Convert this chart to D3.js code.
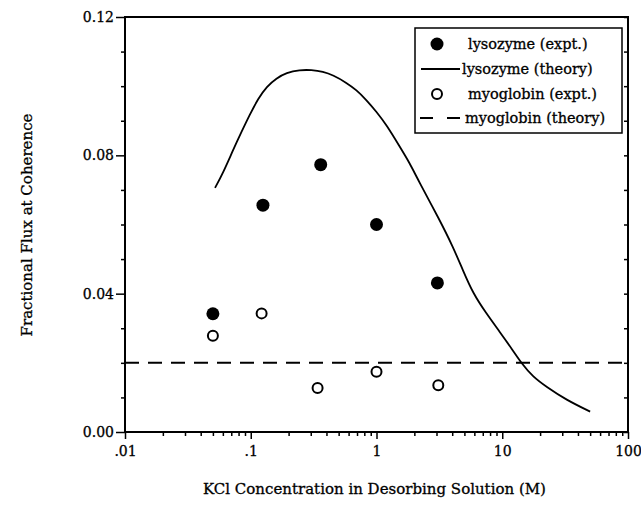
<!DOCTYPE html>
<html>
<head>
<meta charset="utf-8">
<script src="https://cdn.jsdelivr.net/npm/d3@7"></script>
<style>
  body { margin: 0; background: #fff; }
  text { font-family: "DejaVu Serif", serif; fill: #000; stroke: #000; stroke-width: 0.3px; }
</style>
</head>
<body>
<div id="chart"></div>
<script>
// Data
var lysoExptX = [0.05, 0.125, 0.36, 1.0, 3.05];
var lysoExptY = [0.0342, 0.0656, 0.0773, 0.0600, 0.0431];
var myoExptX = [0.05, 0.122, 0.34, 1.0, 3.1];
var myoExptY = [0.0278, 0.0343, 0.0127, 0.0174, 0.0135];
var lysoTheoryX = [0.052, 0.060, 0.0725, 0.0845, 0.098, 0.115, 0.134, 0.16, 0.192, 0.245, 0.304, 0.376, 0.451,
                   0.577, 0.692, 0.832, 1.0, 1.2, 1.53, 1.84, 2.14, 3.18, 4.05, 4.86, 5.85, 7.46, 9.53,
                   12.1, 14.2, 17.5, 22.4, 32.2, 50];
var lysoTheoryY = [0.0706, 0.0748, 0.0816, 0.0868, 0.0917, 0.0965, 0.0999, 0.1023, 0.1039, 0.1047, 0.1047, 0.1042, 0.1032,
                   0.1010, 0.0989, 0.0960, 0.0926, 0.0888, 0.0825, 0.0777, 0.0729, 0.0613, 0.0536, 0.0468, 0.0401, 0.0343, 0.0290,
                   0.0237, 0.0199, 0.0160, 0.0131, 0.0093, 0.0059];
var myoTheoryY = 0.02;

var xTicks = [0.01, 0.1, 1, 10, 100];
var xTickLabels = [".01", ".1", "1", "10", "100"];
var yTicks = [0, 0.04, 0.08, 0.12];
var yTickLabels = ["0.00", "0.04", "0.08", "0.12"];
var legendLabels = ["lysozyme (expt.)", "lysozyme (theory)", "myoglobin (expt.)", "myoglobin (theory)"];

// Dimensions
var W = 641, H = 513;
var margin = {top: 17, right: 13, bottom: 81, left: 125};
var width = W - margin.left - margin.right,
    height = H - margin.top - margin.bottom;

var svg = d3.select("#chart").append("svg")
    .attr("width", W).attr("height", H)
  .append("g")
    .attr("transform", "translate(" + margin.left + "," + margin.top + ")");

var x = d3.scaleLog().domain([0.01, 100]).range([0, width]);
var y = d3.scaleLinear().domain([0, 0.12]).range([height, 0]);

// minor ticks
var xMinor = [];
[0.01, 0.1, 1, 10].forEach(function(d) {
    for (var k = 2; k <= 9; k++) xMinor.push(d * k);
});
var yMinor = d3.range(0, 13).map(function(i) { return i * 0.01; })
    .filter(function(v, i) { return i % 4 !== 0; });

// bottom axis
var xAxis = svg.append("g").attr("transform", "translate(0," + height + ")");
xAxis.call(d3.axisBottom(x).tickValues(xMinor).tickSize(4).tickFormat(""));
xAxis.append("g").call(d3.axisBottom(x).tickValues(xTicks).tickSize(7)
    .tickFormat(function(d, i) { return xTickLabels[i]; }));
xAxis.selectAll(".domain").remove();
xAxis.selectAll("text").style("font-size", "14px").attr("dy", "0.85em").attr("y", 12);

// left axis
var yAxis = svg.append("g");
yAxis.call(d3.axisLeft(y).tickValues(yMinor).tickSize(4).tickFormat(""));
yAxis.append("g").call(d3.axisLeft(y).tickValues(yTicks).tickSize(9)
    .tickFormat(function(d, i) { return yTickLabels[i]; }));
yAxis.selectAll(".domain").remove();
yAxis.selectAll("text").style("font-size", "14px").attr("x", -11);

// right axis small inward ticks
var rAxis = svg.append("g").attr("transform", "translate(" + width + ",0)");
rAxis.call(d3.axisRight(y).tickValues(yMinor.concat(yTicks)).tickSize(-4).tickFormat(""));
rAxis.selectAll(".domain").remove();

svg.selectAll(".tick line").attr("stroke-width", 1.5);

// frame
svg.append("rect")
    .attr("x", 0).attr("y", 0)
    .attr("width", width).attr("height", height)
    .attr("fill", "none").attr("stroke", "#000").attr("stroke-width", 2);

// myoglobin theory
svg.append("line")
    .attr("x1", x(0.01)).attr("x2", x(100))
    .attr("y1", y(myoTheoryY)).attr("y2", y(myoTheoryY))
    .attr("stroke", "#000").attr("stroke-width", 2)
    .attr("stroke-dasharray", "14,9");

// lysozyme theory
var line = d3.line()
    .x(function(d) { return x(d[0]); })
    .y(function(d) { return y(d[1]); })
    .curve(d3.curveBasis);
svg.append("path")
    .datum(d3.zip(lysoTheoryX, lysoTheoryY))
    .attr("d", line)
    .attr("fill", "none").attr("stroke", "#000").attr("stroke-width", 1.8);

// experimental points
svg.selectAll(".lyso").data(d3.zip(lysoExptX, lysoExptY)).enter()
  .append("circle").attr("class", "lyso")
    .attr("cx", function(d) { return x(d[0]); })
    .attr("cy", function(d) { return y(d[1]); })
    .attr("r", 6.5).attr("fill", "#000");

svg.selectAll(".myo").data(d3.zip(myoExptX, myoExptY)).enter()
  .append("circle").attr("class", "myo")
    .attr("cx", function(d) { return x(d[0]); })
    .attr("cy", function(d) { return y(d[1]); })
    .attr("r", 5).attr("fill", "#fff").attr("stroke", "#000").attr("stroke-width", 2);

// legend
var lg = svg.append("g").attr("transform", "translate(" + (415 - margin.left) + "," + (28 - margin.top) + ")");
lg.append("rect").attr("width", 207).attr("height", 105)
    .attr("fill", "#fff").attr("stroke", "#000").attr("stroke-width", 1.5);
var rowY = [16, 41, 66, 90];
lg.append("circle").attr("cx", 22).attr("cy", rowY[0]).attr("r", 6.5).attr("fill", "#000");
lg.append("line").attr("x1", 6).attr("x2", 45).attr("y1", rowY[1]).attr("y2", rowY[1])
    .attr("stroke", "#000").attr("stroke-width", 1.8);
lg.append("circle").attr("cx", 22).attr("cy", rowY[2]).attr("r", 5)
    .attr("fill", "#fff").attr("stroke", "#000").attr("stroke-width", 2);
lg.append("line").attr("x1", 5).attr("x2", 45).attr("y1", rowY[3]).attr("y2", rowY[3])
    .attr("stroke", "#000").attr("stroke-width", 2).attr("stroke-dasharray", "13,14");
lg.selectAll(".lt").data(legendLabels).enter()
  .append("text").attr("class", "lt")
    .attr("x", function(d, i) { return i === 3 ? 50 : (i === 1 ? 47 : 53); })
    .attr("y", function(d, i) { return rowY[i]; })
    .attr("dy", "0.35em")
    .style("font-size", "14.5px")
    .text(function(d) { return d; });

// axis titles
svg.append("text")
    .attr("x", width / 2 - 2).attr("y", height + 62)
    .attr("text-anchor", "middle").style("font-size", "15px")
    .text("KCl Concentration in Desorbing Solution (M)");
svg.append("text")
    .attr("transform", "translate(" + (27 - margin.left) + "," + (225 - margin.top) + ") rotate(-90)")
    .attr("text-anchor", "middle").attr("dy", "0.35em").style("font-size", "15px")
    .text("Fractional Flux at Coherence");
</script>
</body>
</html>
